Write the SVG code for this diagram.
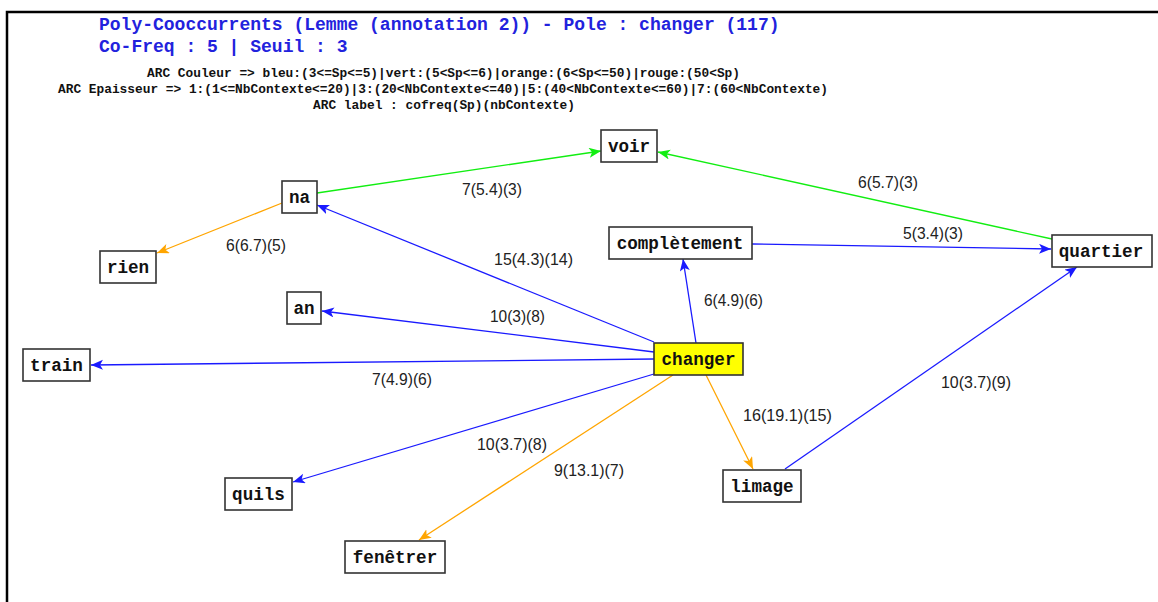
<svg xmlns="http://www.w3.org/2000/svg" width="1158" height="602" viewBox="0 0 1158 602">
<style>
.frame{stroke:#000;stroke-width:2.5;fill:none}
.title{font-family:"Liberation Mono","Courier New",monospace;font-weight:bold;font-size:18px;fill:#2222dd}
.legend{font-family:"Liberation Mono","Courier New",monospace;font-weight:bold;font-size:12.5px;fill:#111}
.box{fill:#fff;stroke:#333;stroke-width:1.6}
.pole{fill:#ffff00;stroke:#333;stroke-width:1.6}
.nt{font-family:"Liberation Mono","Courier New",monospace;font-weight:bold;font-size:17.6px;fill:#111;text-anchor:middle}
.e{fill:none;stroke-width:1.3}
.b{stroke:#1a1aff}
.g{stroke:#11ee11}
.o{stroke:#ffa500}
.lbl{font-family:"Liberation Sans",Arial,sans-serif;font-size:17px;fill:#222}
</style>
<defs>
<marker id="ab" markerUnits="userSpaceOnUse" markerWidth="14" markerHeight="12" refX="12" refY="5" orient="auto"><path d="M0,0 L12,5 L0,10 L3,5 z" fill="#1a1aff"/></marker>
<marker id="ag" markerUnits="userSpaceOnUse" markerWidth="14" markerHeight="12" refX="12" refY="5" orient="auto"><path d="M0,0 L12,5 L0,10 L3,5 z" fill="#11ee11"/></marker>
<marker id="ao" markerUnits="userSpaceOnUse" markerWidth="14" markerHeight="12" refX="12" refY="5" orient="auto"><path d="M0,0 L12,5 L0,10 L3,5 z" fill="#ffa500"/></marker>
</defs>
<rect width="1158" height="602" fill="#fff"/>
<path class="frame" d="M7,602 L7,12 L1158,12"/>
<g id="header">
<text class="title" x="99" y="30">Poly-Cooccurrents (Lemme (annotation 2)) - Pole : changer (117)</text>
<text class="title" x="99" y="52">Co-Freq : 5 | Seuil : 3</text>
<text class="legend" x="147" y="77" textLength="593" lengthAdjust="spacingAndGlyphs">ARC Couleur =&gt; bleu:(3&lt;=Sp&lt;=5)|vert:(5&lt;Sp&lt;=6)|orange:(6&lt;Sp&lt;=50)|rouge:(50&lt;Sp)</text>
<text class="legend" x="58" y="93" textLength="770" lengthAdjust="spacingAndGlyphs">ARC Epaisseur =&gt; 1:(1&lt;=NbContexte&lt;=20)|3:(20&lt;NbContexte&lt;=40)|5:(40&lt;NbContexte&lt;=60)|7:(60&lt;NbContexte)</text>
<text class="legend" x="313" y="109" textLength="262" lengthAdjust="spacingAndGlyphs">ARC label : cofreq(Sp)(nbContexte)</text>
</g>
<g id="connectors">
<line class="e g" x1="317" y1="193" x2="601" y2="151" marker-end="url(#ag)"/>
<line class="e g" x1="1052" y1="239" x2="658" y2="152" marker-end="url(#ag)"/>
<line class="e o" x1="282" y1="203" x2="157" y2="253" marker-end="url(#ao)"/>
<line class="e b" x1="654" y1="342" x2="317" y2="205" marker-end="url(#ab)"/>
<line class="e b" x1="752" y1="244" x2="1051" y2="249" marker-end="url(#ab)"/>
<line class="e b" x1="696" y1="343" x2="683" y2="259" marker-end="url(#ab)"/>
<line class="e b" x1="654" y1="352" x2="322" y2="311" marker-end="url(#ab)"/>
<line class="e b" x1="654" y1="359" x2="91" y2="365" marker-end="url(#ab)"/>
<line class="e b" x1="654" y1="374" x2="293" y2="482" marker-end="url(#ab)"/>
<line class="e o" x1="673" y1="375" x2="419" y2="540" marker-end="url(#ao)"/>
<line class="e o" x1="706" y1="375" x2="753" y2="469" marker-end="url(#ao)"/>
<line class="e b" x1="785" y1="469" x2="1077" y2="267" marker-end="url(#ab)"/>
<text class="lbl" x="462" y="195" textLength="60" lengthAdjust="spacingAndGlyphs">7(5.4)(3)</text>
<text class="lbl" x="858" y="188" textLength="60" lengthAdjust="spacingAndGlyphs">6(5.7)(3)</text>
<text class="lbl" x="226" y="251" textLength="60" lengthAdjust="spacingAndGlyphs">6(6.7)(5)</text>
<text class="lbl" x="494" y="265" textLength="79" lengthAdjust="spacingAndGlyphs">15(4.3)(14)</text>
<text class="lbl" x="903" y="239" textLength="60" lengthAdjust="spacingAndGlyphs">5(3.4)(3)</text>
<text class="lbl" x="704" y="306" textLength="59" lengthAdjust="spacingAndGlyphs">6(4.9)(6)</text>
<text class="lbl" x="490" y="322" textLength="55" lengthAdjust="spacingAndGlyphs">10(3)(8)</text>
<text class="lbl" x="372" y="385" textLength="60" lengthAdjust="spacingAndGlyphs">7(4.9)(6)</text>
<text class="lbl" x="477" y="450" textLength="70" lengthAdjust="spacingAndGlyphs">10(3.7)(8)</text>
<text class="lbl" x="554" y="476" textLength="70" lengthAdjust="spacingAndGlyphs">9(13.1)(7)</text>
<text class="lbl" x="743" y="421" textLength="89" lengthAdjust="spacingAndGlyphs">16(19.1)(15)</text>
<text class="lbl" x="941" y="388" textLength="70" lengthAdjust="spacingAndGlyphs">10(3.7)(9)</text>
</g>
<g id="node-voir"><rect class="box" x="601" y="130" width="56" height="32"/><text class="nt" x="629" y="152">voir</text></g>
<g id="node-na"><rect class="box" x="282" y="181" width="35" height="32"/><text class="nt" x="299.5" y="203">na</text></g>
<g id="node-rien"><rect class="box" x="100" y="251" width="56" height="32"/><text class="nt" x="128" y="273">rien</text></g>
<g id="node-completement"><rect class="box" x="609" y="227" width="143" height="32"/><text class="nt" x="680" y="249">complètement</text></g>
<g id="node-quartier"><rect class="box" x="1052" y="235" width="100" height="32"/><text class="nt" x="1101" y="257">quartier</text></g>
<g id="node-an"><rect class="box" x="287" y="292" width="34" height="32"/><text class="nt" x="304" y="314">an</text></g>
<g id="node-train"><rect class="box" x="23" y="349" width="67" height="32"/><text class="nt" x="56.5" y="371">train</text></g>
<g id="node-changer"><rect class="pole" x="654" y="343" width="89" height="32"/><text class="nt" x="698.5" y="365">changer</text></g>
<g id="node-quils"><rect class="box" x="225" y="478" width="67" height="32"/><text class="nt" x="258.5" y="500">quils</text></g>
<g id="node-fenetrer"><rect class="box" x="345" y="541" width="100" height="32"/><text class="nt" x="395" y="563">fenêtrer</text></g>
<g id="node-limage"><rect class="box" x="723" y="470" width="78" height="32"/><text class="nt" x="762" y="492">limage</text></g>
</svg>
